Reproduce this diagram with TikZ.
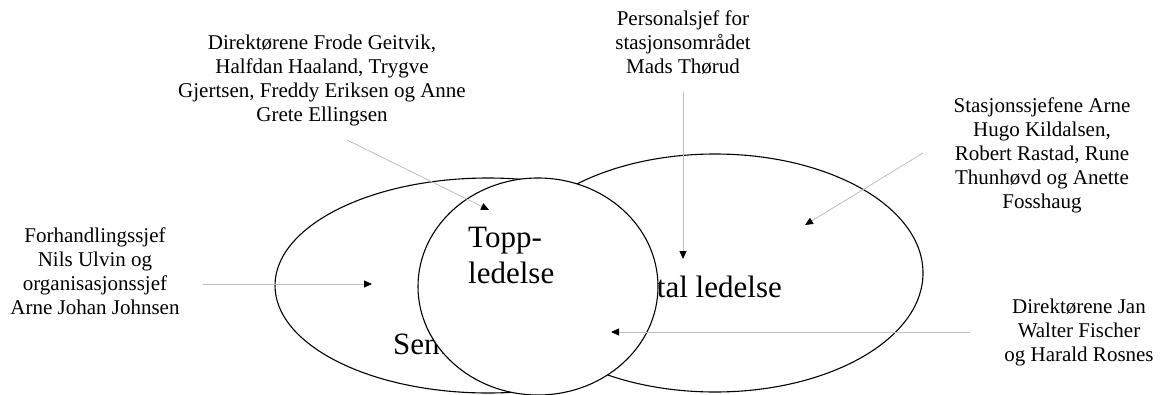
\documentclass[tikz,border=0pt]{standalone}
\usepackage{fontspec}
\setmainfont{Liberation Serif}
\usetikzlibrary{shapes.geometric,arrows.meta}
% centred and left-aligned line stacks whose baseline is the first line
\newcommand\stackc[1]{\begin{tabular}[t]{@{}c@{}}#1\end{tabular}}
\newcommand\stackl[1]{\begin{tabular}[t]{@{}l@{}}#1\end{tabular}}
\begin{document}
\begin{tikzpicture}[x=1pt,y=-1pt,
  zone/.style={ellipse, draw=black, line width=1.1pt, fill=white, inner sep=0pt},
  note/.style={anchor=base, inner sep=0pt, font=\fontsize{21}{24}\selectfont},
  big/.style={inner sep=0pt, font=\fontsize{31}{36}\selectfont},
  conn/.style={draw=black!25, line width=0.8pt, -{Triangle[length=8pt,width=7pt,color=black]}}]

\fill[white] (0,0) rectangle (1163,394);
\useasboundingbox (0,0) rectangle (1163,394);

% management zones
\node[zone, minimum width=426pt, minimum height=215pt] (sentral) at (488,285.5) {};
\node[big, anchor=base west] (sentraltxt) at (393,354) {Sentral ledelse};
\node[zone, minimum width=416pt, minimum height=238pt] (horis) at (715,273) {};
\node[big, anchor=base east] (horistxt) at (782,297) {Horisontal ledelse};
\node[zone, minimum width=240pt, minimum height=217pt] (topp) at (538,286.5) {};
\node[big, anchor=base west] (topptxt) at (468,247) {\stackl{Topp-\\[0pt]ledelse}};

% people
\node[note] (forh) at (95,242) {\stackc{Forhandlingssjef\\Nils Ulvin og\\organisasjonssjef\\Arne Johan Johnsen}};
\node[note] (dirA) at (322,49) {\stackc{Direktørene Frode Geitvik,\\Halfdan Haaland, Trygve\\Gjertsen, Freddy Eriksen og Anne\\Grete Ellingsen}};
\node[note] (pers) at (683,25) {\stackc{Personalsjef for\\stasjonsområdet\\Mads Thørud}};
\node[note] (stas) at (1042,112) {\stackc{Stasjonssjefene Arne\\Hugo Kildalsen,\\Robert Rastad, Rune\\Thunhøvd og Anette\\Fosshaug}};
\node[note] (dirB) at (1079,313) {\stackc{Direktørene Jan\\Walter Fischer\\og Harald Rosnes}};

% pointer ends
\coordinate (forhT) at (203,284);  \coordinate (forhH) at (372,284);
\coordinate (dirAT) at (347,140);  \coordinate (dirAH) at (489,210);
\coordinate (persT) at (683,92);   \coordinate (persH) at (683,259);
\coordinate (stasT) at (923,153);  \coordinate (stasH) at (805,225);
\coordinate (dirBT) at (970,332);  \coordinate (dirBH) at (611,332);

\draw[conn] (forhT) -- (forhH);
\draw[conn] (dirAT) -- (dirAH);
\draw[conn] (persT) -- (persH);
\draw[conn] (stasT) -- (stasH);
\draw[conn] (dirBT) -- (dirBH);
\end{tikzpicture}
\end{document}
